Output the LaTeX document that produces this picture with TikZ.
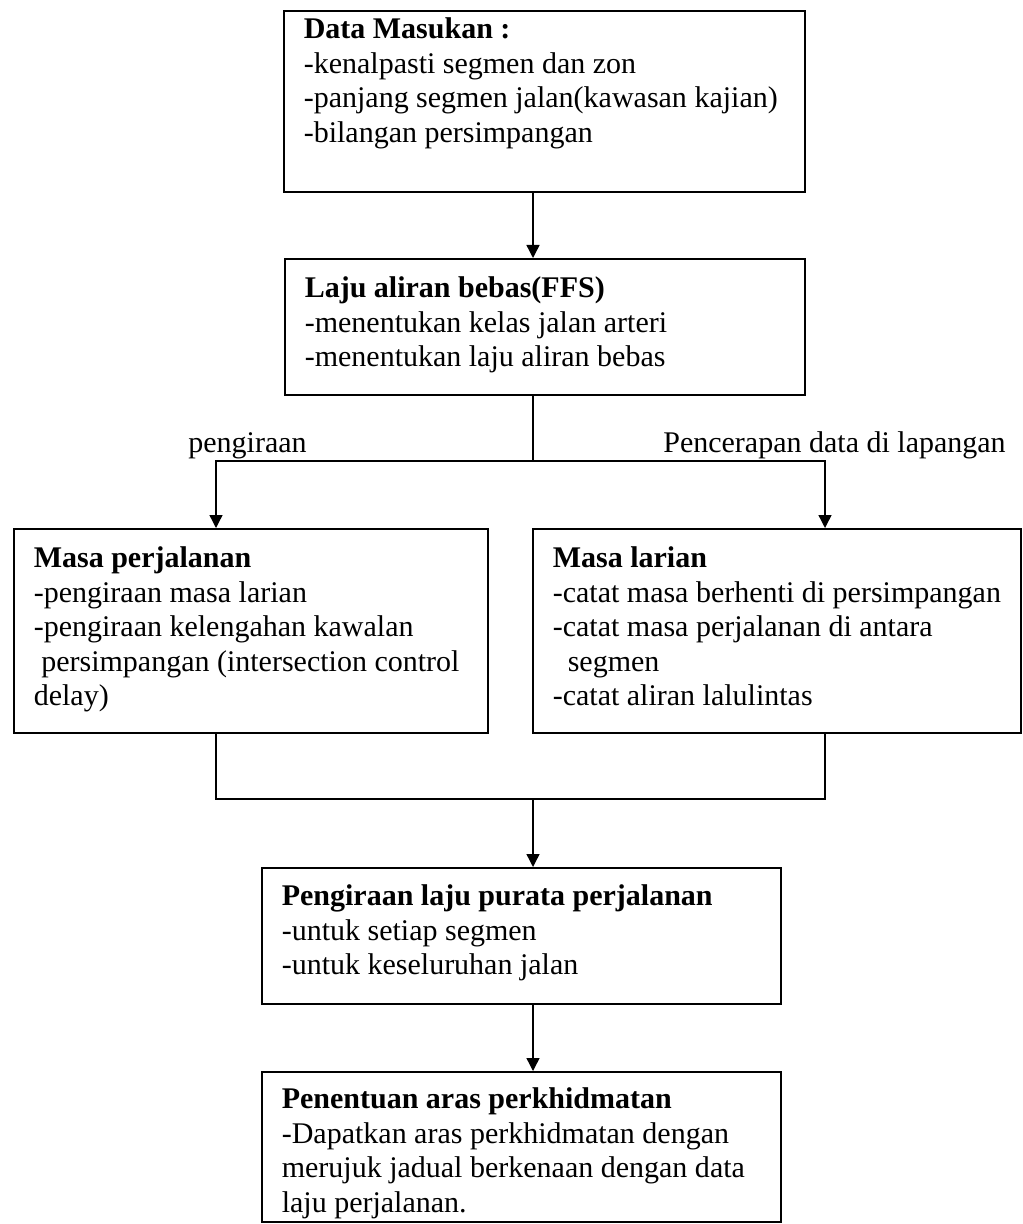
\documentclass[tikz,border=0pt]{standalone}
\usepackage{fontspec}
\setmainfont{Liberation Serif}
\usepackage{tikz}
\usetikzlibrary{arrows.meta,positioning}
\newcommand{\hurufkotak}{\fontsize{15pt}{17.25pt}\selectfont}
% isi kotak: lebar, tinggi, jarak garis dasar pertama, teks
\newcommand{\isikotak}[4]{\parbox[c][#2][t]{#1}{\leftskip=10pt\rightskip=0pt plus 1fil\parindent=0pt\rule{0pt}{#3}#4}}
\tikzset{
  kotak/.style={draw, line width=0.8pt, anchor=north west, inner sep=0pt, font=\hurufkotak},
  alir/.style={-{Triangle[length=6.5pt, width=6.5pt]}, line width=0.7pt},
  garis/.style={line width=0.7pt},
  labelcabang/.style={font=\hurufkotak, anchor=base, inner sep=0pt}
}
\begin{document}
\begin{tikzpicture}[x=0.5pt, y=-0.5pt]
        \useasboundingbox (0,0) rectangle (1022,1224);
        \node[kotak] (masukan) at (283,10) {\isikotak{260.5pt}{90.5pt}{14pt}{\textbf{Data Masukan :}\\ -kenalpasti segmen dan zon\\ -panjang segmen jalan(kawasan kajian)\\ -bilangan persimpangan}};
        \node[kotak] (ffs) at (284,258) {\isikotak{260pt}{68pt}{19.5pt}{\textbf{Laju aliran bebas(FFS)}\\ -menentukan kelas jalan arteri\\ -menentukan laju aliran bebas}};
        \node[kotak] (perjalanan) at (13,528) {\isikotak{237pt}{102pt}{19.5pt}{\textbf{Masa perjalanan}\\ -pengiraan masa larian\\ -pengiraan kelengahan kawalan\\ \hspace*{0.25em}persimpangan (intersection control\\ delay)}};
        \node[kotak] (larian) at (532,528) {\isikotak{244pt}{102pt}{19.5pt}{\textbf{Masa larian}\\ -catat masa berhenti di persimpangan\\ -catat masa perjalanan di antara\\ \hspace*{0.5em}segmen\\ -catat aliran lalulintas}};
        \node[kotak] (purata) at (261,867) {\isikotak{259.5pt}{68pt}{19pt}{\textbf{Pengiraan laju purata perjalanan}\\ -untuk setiap segmen\\ -untuk keseluruhan jalan}};
        \node[kotak] (aras) at (261,1071) {\isikotak{259.5pt}{75pt}{18.5pt}{\textbf{Penentuan aras perkhidmatan}\\ -Dapatkan aras perkhidmatan dengan\\ merujuk jadual berkenaan dengan data\\ laju perjalanan.}};
        \coordinate (tengah) at (533,0);
        \coordinate (cabang) at (533,461);
        \coordinate (kiri) at (216,461);
        \coordinate (kanan) at (825,461);
        \coordinate (gabung) at (533,799);
        \coordinate (gabungkiri) at (216,799);
        \coordinate (gabungkanan) at (825,799);
        \node[labelcabang] (lbhitung) at (247.5,452) {pengiraan};
        \node[labelcabang] (lbcerap) at (834.5,452) {Pencerapan data di lapangan};
        \draw[alir] (masukan.south -| tengah) -- (ffs.north -| tengah);
        \draw[garis] (ffs.south -| tengah) -- (cabang);
        \draw[alir] (cabang) -- (kiri) -- (perjalanan.north -| kiri);
        \draw[alir] (cabang) -- (kanan) -- (larian.north -| kanan);
        \draw[garis] (perjalanan.south -| kiri) -- (gabungkiri) -- (gabungkanan) -- (larian.south -| kanan);
        \draw[alir] (gabung) -- (purata.north -| tengah);
        \draw[alir] (purata.south -| tengah) -- (aras.north -| tengah);
      \end{tikzpicture}
\end{document}
